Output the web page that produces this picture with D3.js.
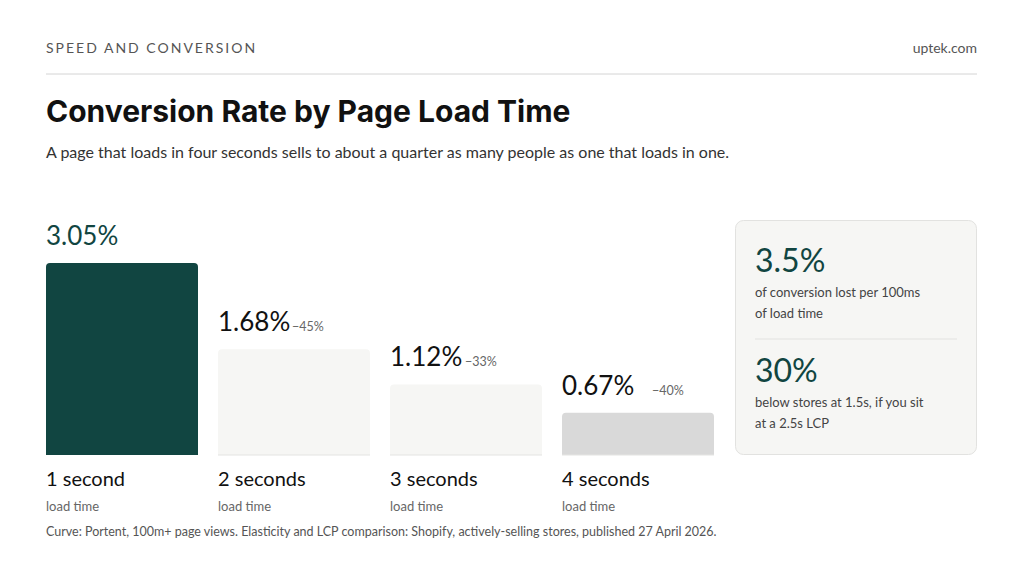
<!DOCTYPE html>
<html><head><meta charset="utf-8">
<script src="https://cdn.jsdelivr.net/npm/d3@7"></script>
<style>body{margin:0;background:#fff}svg{display:block}</style>
</head><body><svg id="c" width="1024" height="576"></svg>
<script>
const categories=["1 second","2 seconds","3 seconds","4 seconds"];
const values=[3.05,1.68,1.12,0.67];
const changes=["","−45%","−33%","−40%"];
const valueLabels=["3.05%","1.68%","1.12%","0.67%"];
const fills=["#114541","#f6f6f4","#f6f6f4","#d9d9d9"];
const svg=d3.select("#c");
const F="Lato, 'Noto Sans', sans-serif", G="#114541";
svg.append("text").attr("x",46).attr("y",53).attr("font-family",F).attr("font-size",14).attr("letter-spacing",2).attr("fill","#555").text("SPEED AND CONVERSION");
svg.append("text").attr("x",977).attr("y",53).attr("text-anchor","end").attr("font-family",F).attr("font-size",14).attr("fill","#555").text("uptek.com");
svg.append("line").attr("x1",46).attr("x2",977).attr("y1",74).attr("y2",74).attr("stroke","#d4d4d4");
svg.append("text").attr("x",46).attr("y",122).attr("font-family","Inter, sans-serif").attr("font-weight",700).attr("font-size",30).attr("fill","#111").text("Conversion Rate by Page Load Time");
svg.append("text").attr("x",46).attr("y",158).attr("font-family",F).attr("font-size",16).attr("fill","#333").text("A page that loads in four seconds sells to about a quarter as many people as one that loads in one.");
const x=d3.scaleBand().domain(categories).range([46,734]).paddingInner(20/172).paddingOuter(0);
const x2=d3.scaleBand().domain(categories).range([46,734]).paddingInner(0.1163);
const bx=d=>46+categories.indexOf(d)*172;
const bw=152;
const y=d3.scaleLinear().domain([0,3.05]).range([455,263]);
const g=svg.append("g");
categories.forEach((c,i)=>{
  const X=bx(c),T=y(values[i]),H=455-T,r=4;
  g.append("path").attr("d",`M${X},455V${T+r}Q${X},${T} ${X+r},${T}H${X+bw-r}Q${X+bw},${T} ${X+bw},${T+r}V455Z`).attr("fill",fills[i]);
  if(i>0) g.append("line").attr("x1",X).attr("x2",X+bw).attr("y1",455).attr("y2",455).attr("stroke","#e4e4e2");
  const t=g.append("text").attr("x",X).attr("y",T-18).attr("font-family",F).attr("font-size",26).attr("fill",i==0?G:"#111").text(valueLabels[i]);
  if(changes[i]) g.append("text").attr("x",X+ (i==3?90:i==2?75:74)).attr("y",T-18).attr("font-family",F).attr("font-size",12.5).attr("fill","#666").text(changes[i]);
  g.append("text").attr("x",X).attr("y",486).attr("font-family",F).attr("font-size",20).attr("fill","#111").text(c);
  g.append("text").attr("x",X).attr("y",511).attr("font-family",F).attr("font-size",13).attr("fill","#666").text("load time");
});
svg.append("text").attr("x",46).attr("y",536).attr("font-family",F).attr("font-size",12.5).attr("fill","#555").text("Curve: Portent, 100m+ page views. Elasticity and LCP comparison: Shopify, actively-selling stores, published 27 April 2026.");
svg.append("rect").attr("x",735.5).attr("y",220.5).attr("width",241).attr("height",234).attr("rx",8).attr("fill","#f6f6f4").attr("stroke","#e2e2e0");
const card=[["3.5%","of conversion lost per 100ms","of load time",272],["30%","below stores at 1.5s, if you sit","at a 2.5s LCP",382]];
card.forEach(([b,l1,l2,yy])=>{
  svg.append("text").attr("x",755).attr("y",yy).attr("font-family",F).attr("font-size",32).attr("fill",G).text(b);
  svg.append("text").attr("x",755).attr("y",yy+25).attr("font-family",F).attr("font-size",13).attr("fill","#444").text(l1);
  svg.append("text").attr("x",755).attr("y",yy+46).attr("font-family",F).attr("font-size",13).attr("fill","#444").text(l2);
});
svg.append("line").attr("x1",755).attr("x2",957).attr("y1",339).attr("y2",339).attr("stroke","#e2e2e0");
</script></body></html>
